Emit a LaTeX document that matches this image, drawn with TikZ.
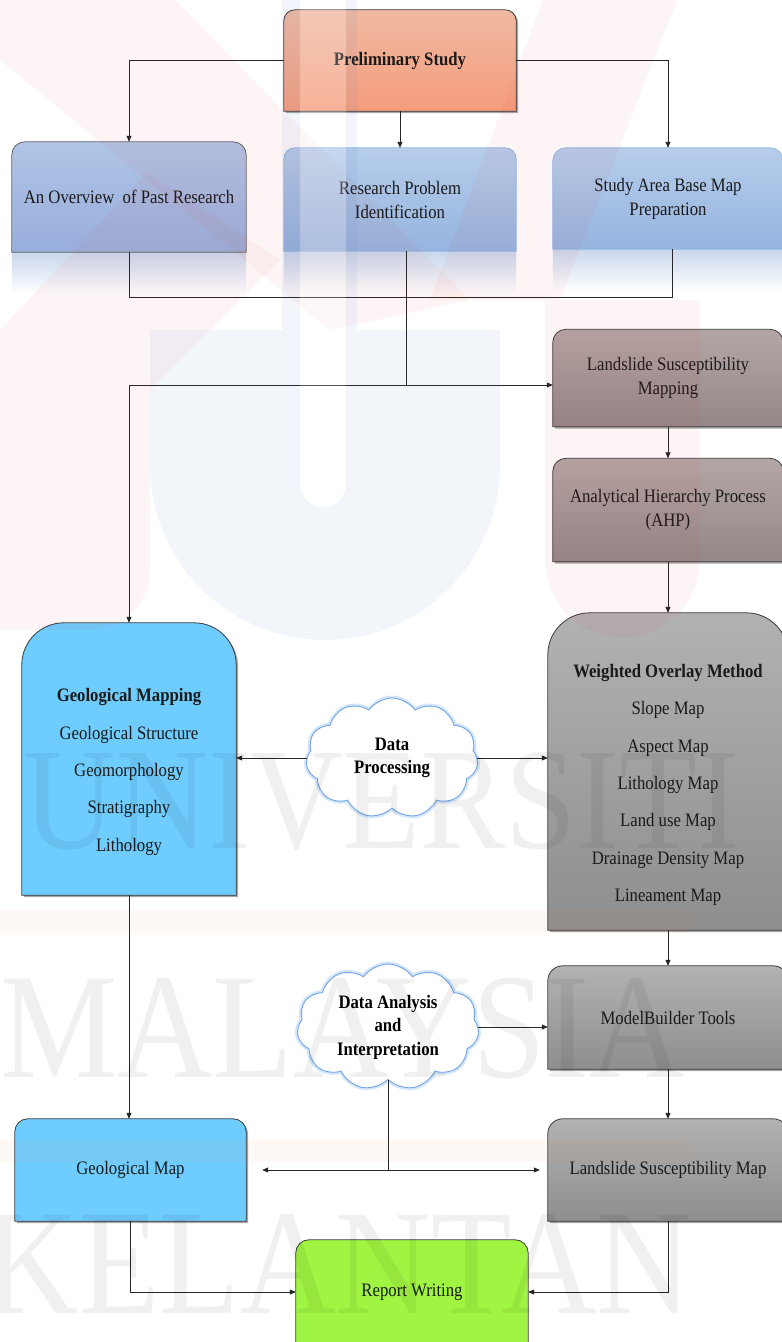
\documentclass[tikz,border=0pt]{standalone}
\usepackage{fontspec}
\setmainfont{Liberation Serif}[FakeStretch=0.88]
\usetikzlibrary{arrows.meta,shapes.symbols,shadows}
\pgfdeclarelayer{back}
\pgfdeclarelayer{bg}
\pgfsetlayers{back,bg,main}
\definecolor{txt}{HTML}{1A1A1A}
\definecolor{edge}{HTML}{3A3A3A}
\definecolor{prelimTop}{HTML}{F0B9A2}
\definecolor{prelimBot}{HTML}{F59D7C}
\definecolor{blueTop}{HTML}{B6CDEB}
\definecolor{blueBot}{HTML}{95B4DF}
\definecolor{ovTop}{HTML}{B0C4E6}
\definecolor{ovBot}{HTML}{98AEDB}
\definecolor{blueEdge}{HTML}{8DB6E4}
\definecolor{reflTop}{HTML}{C8D7EC}
\definecolor{mauveTop}{HTML}{B4A6A6}
\definecolor{mauveBot}{HTML}{938787}
\definecolor{grayTop}{HTML}{B2B2B2}
\definecolor{grayBot}{HTML}{8E8E8E}
\definecolor{geoBlue}{HTML}{6ECDFE}
\definecolor{lime}{HTML}{A0F542}
\definecolor{cloudEdge}{HTML}{6FA3E6}
\definecolor{cloudGlow}{HTML}{B9D6F7}
\definecolor{wmPink}{RGB}{225,40,40}
\definecolor{wmBlue}{RGB}{80,128,192}
\definecolor{wmOrange}{RGB}{255,140,60}
% top-rounded box drawn behind a named node
\newcommand\trbox[3]{%
  \path[#3] (#1.south west) -- ([yshift=-#2pt]#1.north west)
    arc[start angle=180,end angle=90,radius=#2pt]
    -- ([xshift=-#2pt]#1.north east)
    arc[start angle=90,end angle=0,radius=#2pt]
    -- (#1.south east) -- cycle;}
\begin{document}
\begin{tikzpicture}[x=1pt,y=1pt,
  lbl/.style={inner sep=0pt, text=txt, align=center, font=\fontsize{19}{24}\selectfont},
  lst/.style={inner sep=0pt, text=txt, align=center, font=\fontsize{19}{37.4}\selectfont},
  cloudbox/.style={cloud, cloud puffs=11, cloud puff arc=110, cloud ignores aspect,
    inner sep=0pt, draw=cloudEdge, fill=white, line width=0.9pt, text=black,
    align=center, font=\bfseries\fontsize{19}{23.5}\selectfont,
    preaction={draw=cloudGlow, line width=5pt, opacity=0.6}},
  shadowed/.style={drop shadow={shadow xshift=2pt, shadow yshift=-2pt, opacity=0.35, fill=black}},
  conn/.style={draw=black!85, line width=0.8pt},
  arr/.style={conn, -{Triangle[length=6pt,width=5pt]}},
  darr/.style={conn, {Triangle[length=6pt,width=5pt]}-{Triangle[length=6pt,width=5pt]}},
  wmtext/.style={inner sep=0pt, text=black, text opacity=0.06},
  wmshape/.style={opacity=0.045}
]
\begin{pgfonlayer}{back}
\fill[white] (0,0) rectangle (782,-1342);
\end{pgfonlayer}
\useasboundingbox (0,0) rectangle (782,-1342);

% ---------- nodes ----------
\node[lbl, minimum width=232, minimum height=101] (prelim) at (400,-60.5) {\textbf{Preliminary Study}};
\node[lbl, minimum width=234, minimum height=110] (overview) at (129,-197) {An Overview \ of Past Research};
\node[lbl, minimum width=232, minimum height=103] (research) at (400,-199.5) {Research Problem\\Identification};
\node[lbl, minimum width=230, minimum height=101] (study) at (668,-198.5) {Study Area Base Map\\Preparation};
\node[lbl, minimum width=230, minimum height=97] (lsm) at (668,-378) {Landslide Susceptibility\\Mapping};
\node[lbl, minimum width=230, minimum height=103] (ahp) at (668,-510) {Analytical Hierarchy Process\\(AHP)};

\node[inner sep=0pt, minimum width=214, minimum height=272] (gm) at (129,-759) {};
\node[lst] (gmtxt) at (129,-772) {\textbf{Geological Mapping}\\Geological Structure\\Geomorphology\\Stratigraphy\\Lithology};
\node[inner sep=0pt, minimum width=240, minimum height=317] (wom) at (668,-771.5) {};
\node[lst] (womtxt) at (668,-785) {\textbf{Weighted Overlay Method}\\Slope Map\\Aspect Map\\Lithology Map\\Land use Map\\Drainage Density Map\\Lineament Map};

\node[cloudbox, minimum width=172, minimum height=120] (dp) at (392,-758) {Data\\Processing};
\node[cloudbox, minimum width=182, minimum height=126] (da) at (388,-1027) {Data Analysis\\and\\Interpretation};

\node[lbl, minimum width=240, minimum height=103] (mb) at (668,-1017.5) {ModelBuilder Tools};
\node[lbl, minimum width=240, minimum height=102] (lsmap) at (668,-1170) {Landslide Susceptibility Map};
\node[lbl, minimum width=231, minimum height=102] (geomap) at (130.5,-1170) {Geological Map};
\node[lbl, minimum width=232, minimum height=104] (rw) at (412,-1292) {Report Writing};

% ---------- box bodies ----------
\begin{pgfonlayer}{bg}
  \fill[top color=reflTop, bottom color=white] (overview.south west) rectangle ([yshift=-42pt]overview.south east);
  \fill[top color=reflTop, bottom color=white] (research.south west) rectangle ([yshift=-42pt]research.south east);
  \fill[top color=reflTop, bottom color=white] (study.south west) rectangle ([yshift=-42pt]study.south east);
  \trbox{prelim}{11}{top color=prelimTop, bottom color=prelimBot, draw=edge, line width=0.8pt, shadowed}
  \trbox{overview}{13}{top color=ovTop, bottom color=ovBot, draw=edge!80, line width=0.8pt}
  \trbox{research}{11}{top color=blueTop, bottom color=blueBot, draw=blueEdge, line width=0.8pt}
  \trbox{study}{13}{top color=blueTop, bottom color=blueBot, draw=blueEdge, line width=0.8pt}
  \trbox{lsm}{13}{top color=mauveTop, bottom color=mauveBot, draw=edge, line width=0.8pt, shadowed}
  \trbox{ahp}{13}{top color=mauveTop, bottom color=mauveBot, draw=edge, line width=0.8pt, shadowed}
  \trbox{gm}{42}{fill=geoBlue, draw=edge, line width=0.8pt, shadowed}
  \trbox{wom}{42}{top color=grayTop, bottom color=grayBot, draw=edge, line width=0.8pt, shadowed}
  \trbox{mb}{15}{top color=grayTop, bottom color=grayBot, draw=edge, line width=0.8pt, shadowed}
  \trbox{lsmap}{15}{top color=grayTop, bottom color=grayBot, draw=edge, line width=0.8pt, shadowed}
  \trbox{geomap}{13}{fill=geoBlue, draw=edge, line width=0.8pt, shadowed}
  \trbox{rw}{13}{fill=lime, draw=edge, line width=0.8pt}
\end{pgfonlayer}

% ---------- connectors ----------
\coordinate (busY) at (0,-297);
\coordinate (jn) at (406,-385);
\draw[arr] (prelim.west) -| (overview.north);
\draw[arr] (prelim.south) -- (research.north);
\draw[arr] (prelim.east) -| (study.north);
\draw[conn] (overview.south) -- (overview.south |- busY) -- ([xshift=4pt]study.south |- busY) -- ([xshift=4pt]study.south);
\draw[conn] ([xshift=6pt]research.south) -- (jn);
\draw[arr] (jn) -- (lsm.west |- jn);
\draw[arr] (jn) -| (gm.north);
\draw[arr] (lsm.south) -- (ahp.north);
\draw[arr] (ahp.south) -- (wom.north);
\draw[arr] (dp.west) -- (gm.east |- dp.west);
\draw[arr] (dp.east) -- (wom.west |- dp.east);
\draw[arr] (gm.south) -- (gm.south |- geomap.north);
\draw[arr] (wom.south) -- (mb.north);
\draw[arr] (mb.south) -- (lsmap.north);
\draw[arr] (da.east) -- (mb.west |- da.east);
\draw[conn] (da.south) -- (da.south |- geomap.east);
\draw[darr, shorten <=16pt, shorten >=8pt] (geomap.east) -- (lsmap.west);
\draw[arr] (geomap.south) |- (rw.west);
\draw[arr] (lsmap.south) |- (rw.east);

% ---------- faint watermark ----------
\fill[wmPink, wmshape] (0,-60) -- (0,0) -- (175,0) -- (470,-300) -- (330,-330) -- cycle;
\fill[wmPink, wmshape] (543,0) -- (677,0) -- (560,-300) -- (430,-300) -- cycle;
\fill[wmPink, wmshape] (0,-330) -- (147,-173) -- (280,-260) -- (150,-390) -- (150,-570) arc[start angle=0,end angle=-90,radius=60pt] -- (0,-630) -- cycle;
\fill[wmPink, wmshape] (545,-300) -- (700,-300) -- (700,-560) arc[start angle=0,end angle=-180,radius=77.5pt] -- cycle;
\fill[wmBlue, opacity=0.07, even odd rule]
  (150,-330) -- (150,-465) arc[start angle=180,end angle=360,radius=175pt] -- (500,-330) -- (357,-330) -- (357,0) -- (282,0) -- (282,-330) -- cycle
  (300,0) -- (300,-484) arc[start angle=180,end angle=360,radius=23pt] -- (346,0) -- cycle;
\fill[white, opacity=0.22] (300,0) -- (300,-484) arc[start angle=180,end angle=360,radius=23pt] -- (346,0) -- cycle;
\fill[wmOrange, opacity=0.05] (0,-910) rectangle (690,-933);
\fill[wmOrange, opacity=0.05] (0,-1140) rectangle (690,-1162);
\node[wmtext, anchor=base east, font=\fontsize{145}{145}\selectfont] (wmU) at (740,-848) {UNIVERSITI};
\node[wmtext, anchor=base west, font=\fontsize{150}{150}\selectfont] (wmM) at (0,-1077) {MALAYSIA};
\node[wmtext, anchor=base east, font=\fontsize{150}{150}\selectfont] (wmK) at (692,-1313) {KELANTAN};
\end{tikzpicture}
\end{document}
